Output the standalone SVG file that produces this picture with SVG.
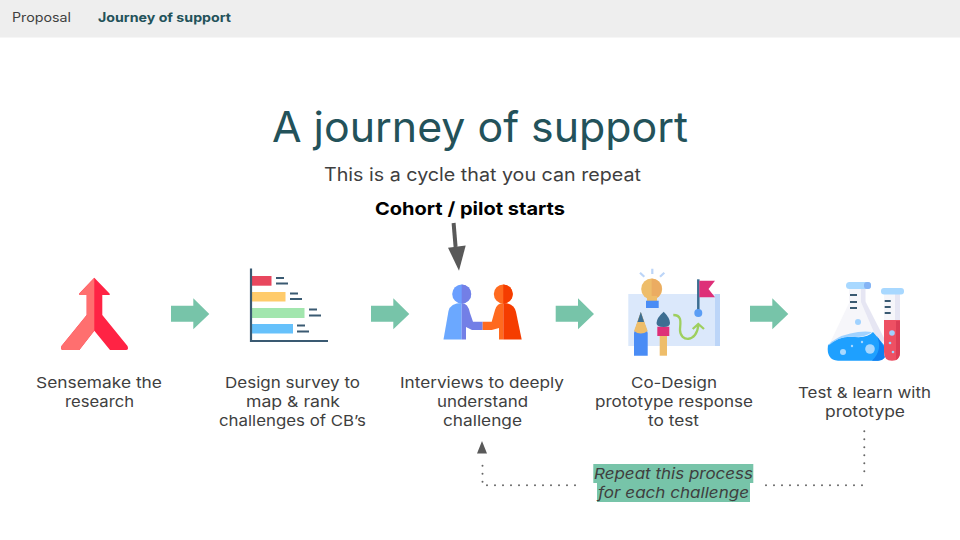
<svg xmlns="http://www.w3.org/2000/svg" width="960" height="540" viewBox="0 0 960 540">
<style>
text{font-family:Inter,"Noto Sans","Liberation Sans",sans-serif;fill:#3f3f3f}
.l{font-size:15px;text-anchor:start}
.arrow{fill:#77c4a9}
.dot{fill:none;stroke:#666;stroke-width:2;stroke-linecap:round;stroke-dasharray:0 8}
</style>
<rect width="960" height="540" fill="#fff"/>
<g id="header">
<rect width="960" height="37.500" fill="#eeeeee"/>
<text x="12" y="22" font-size="12.500" textLength="59" lengthAdjust="spacingAndGlyphs">Proposal</text>
<text x="98" y="22" font-size="12.500" font-weight="700" style="fill:#23525a" textLength="133" lengthAdjust="spacingAndGlyphs">Journey of support</text>
</g>
<g id="title">
<text x="272" y="142" font-size="42" style="fill:#23525a" textLength="416" lengthAdjust="spacingAndGlyphs">A journey of support</text>
<text x="324" y="181" font-size="18" textLength="317" lengthAdjust="spacingAndGlyphs">This is a cycle that you can repeat</text>
</g>
<g id="cohort">
<text x="375" y="215" font-size="18" font-weight="700" style="fill:#000" textLength="190" lengthAdjust="spacingAndGlyphs">Cohort / pilot starts</text>
</g>
<g id="connectors">
<path class="arrow" d="M171 305.700H193.300V298.300L209.300 314L193.300 329.300V321.700H171Z"/>
<path class="arrow" d="M371 305.700H393.300V298.300L409.300 314L393.300 329.300V321.700H371Z"/>
<path class="arrow" d="M555.700 305.700H578V298.300L594 314L578 329.300V321.700H555.700Z"/>
<path class="arrow" d="M750 305.700H772.300V298.300L788.300 314L772.300 329.300V321.700H750Z"/>
<path d="M453.600 223L455.600 247" stroke="#595959" stroke-width="4" fill="none"/>
<path d="M448 247.700L465.700 245.500L459 270.700Z" fill="#595959"/>
<path class="dot" d="M864.300 431.300V479.300"/>
<path class="dot" d="M766 485.300H862.500"/>
<path class="dot" d="M575 485.300H486.700"/>
<path class="dot" d="M482.500 481.700V457.700"/>
<path d="M482 441L487 453.500H477Z" fill="#595959"/>
</g>
<g id="node-sensemake">
<path d="M94.300 277.700L79.300 293.500Q78.600 295 80.500 295H86.700V315L61.500 346Q60.300 350 63 350H79.300L94.300 330.700L110 350H126Q129 350 127.500 346L102.300 315V295H108.500Q110.500 295 109.500 293.500Z" fill="#ff2344"/>
<path d="M94.300 277.700L79.300 293.500Q78.600 295 80.500 295H86.700V315L61.500 346Q60.300 350 63 350H79.300L94.300 330.700Z" fill="#ff6f6f"/>
<text class="l" x="36" y="387.500" textLength="126" lengthAdjust="spacingAndGlyphs">Sensemake the</text>
<text class="l" x="65" y="406.500" textLength="69" lengthAdjust="spacingAndGlyphs">research</text>
</g>
<g id="node-survey">
<rect x="252" y="276" width="19.500" height="9.700" fill="#e8475e"/>
<rect x="252" y="292" width="33.500" height="9.500" fill="#ffcb6b"/>
<rect x="252" y="308" width="52.500" height="10" fill="#a2e6ae"/>
<rect x="252" y="324" width="41" height="9.500" fill="#66c1fb"/>
<path d="M251 268.500V341H328" fill="none" stroke="#3a5a72" stroke-width="2.200"/>
<path d="M276 278h8M276 283.500h12M290 293.500h8M290 299h12M309 309.500h8M309 315.500h12M297 325.500h8M297 331.500h12" stroke="#3a5a72" stroke-width="2" fill="none"/>
<text class="l" x="225" y="387.500" textLength="135" lengthAdjust="spacingAndGlyphs">Design survey to</text>
<text class="l" x="246" y="406.500" textLength="94" lengthAdjust="spacingAndGlyphs">map &amp; rank</text>
<text class="l" x="219" y="425.500" textLength="147" lengthAdjust="spacingAndGlyphs">challenges of CB’s</text>
</g>
<g id="node-interviews">
<circle cx="461.700" cy="294" r="9.500" fill="#6b9fff"/>
<path d="M461.700 284.500a9.500 9.500 0 0 1 0 19Z" fill="#737fe6"/>
<path d="M443.500 339.500L448.500 311Q450.500 303 461.700 303V339.500Z" fill="#6ba8ff"/>
<path d="M461.700 303Q468 303 470 313L473 321.700H482.700V330H472L466 327V339.500H461.700Z" fill="#737fe6"/>
<circle cx="503.300" cy="294" r="9.500" fill="#ff6a1f"/>
<path d="M503.300 284.500a9.500 9.500 0 0 1 0 19Z" fill="#f53d00"/>
<path d="M482.700 321.700H491.700L495 310Q497 303 503.300 303V339.500H499V328L491.700 330H482.700Z" fill="#ff6a1f"/>
<path d="M503.300 303Q514 303 516 312L521.700 339.500H503.300Z" fill="#f53d00"/>
<text class="l" x="400" y="387.500" textLength="164" lengthAdjust="spacingAndGlyphs">Interviews to deeply</text>
<text class="l" x="437" y="406.500" textLength="91" lengthAdjust="spacingAndGlyphs">understand</text>
<text class="l" x="443" y="425.500" textLength="79" lengthAdjust="spacingAndGlyphs">challenge</text>
</g>
<g id="node-codesign">
<rect x="628.300" y="294" width="91.700" height="52" fill="#dbe8fb"/>
<rect x="715" y="294" width="5" height="52" fill="#bcd5f8"/>
<path d="M640 272.700L644.300 276.700M652.300 268.700V274M664.300 272.700L660 276.700" stroke="#bcd5f8" stroke-width="2.200" fill="none"/>
<circle cx="651.700" cy="289" r="10.500" fill="#eebd6a"/>
<path d="M651.700 278.500a10.500 10.500 0 0 1 4 20V301H651.700Z" fill="#eaa860" opacity=".8"/>
<path d="M647 296H657V301H647Z" fill="#eebd6a"/>
<rect x="646" y="300.700" width="12.700" height="7.300" fill="#4a8cf5"/>
<path d="M698.300 279.300V312" stroke="#3d6e92" stroke-width="2.500"/>
<circle cx="698.300" cy="313" r="4" fill="#5a9df5"/>
<path d="M699.300 280.700H715L708.500 289L715 297.300H699.300Z" fill="#de2f78"/>
<path d="M634 355.700V333L640.800 312L647.700 333V355.700Z" fill="#4a8cf5"/>
<path d="M634 331L640.800 312L647.700 331Q640.800 336 634 331Z" fill="#eebd6a"/>
<path d="M637.500 322L640.800 312L644.100 322Z" fill="#3d6e92"/>
<path d="M659.700 333V355.700H667V333Z" fill="#eebd6a"/>
<rect x="657.300" y="326.700" width="12" height="9.300" fill="#de2f78"/>
<path d="M663.700 311.700Q670 318 670 323Q670 327 663.700 327Q656.500 327 656.500 323Q656.500 318 663.700 311.700Z" fill="#3d6e92"/>
<path d="M673.300 315C683 315 680 324 680 330C680 342 697 343 698.300 325M692.700 329L698.300 324L704 329" fill="none" stroke="#9ecf5f" stroke-width="2.300"/>
<text class="l" x="631" y="387.500" textLength="86" lengthAdjust="spacingAndGlyphs">Co-Design</text>
<text class="l" x="595" y="406.500" textLength="158" lengthAdjust="spacingAndGlyphs">prototype response</text>
<text class="l" x="648" y="425.500" textLength="51" lengthAdjust="spacingAndGlyphs">to test</text>
</g>
<g id="node-test">
<path d="M849 287H865V300L885 340Q888 360 880 360H835Q825 355 830 343L849 303Z" fill="#f6f6fa"/>
<path d="M861 287H865.500V302L885 340L879 344L861 302Z" fill="#e6e6f3"/>
<path d="M828 345Q840 335 855 337Q868 338 873 332L884 345Q888 360 878 360.700H838Q826 360 828 345Z" fill="#1ea0ff"/>
<path d="M831 342Q842 334 858 332Q866 331 872 332Q866 337 855 337Q840 335 828 346Z" fill="#a0d2ff"/>
<path d="M877 336L886 350Q887 360.700 878 360.700H872Q883 350 877 336Z" fill="#1080f0"/>
<rect x="846" y="282" width="25" height="7" rx="3.500" fill="#a8d8ff"/>
<rect x="864" y="282" width="7" height="7" rx="3" fill="#85b4f5"/>
<circle cx="858" cy="322" r="3" fill="#a0d2ff"/>
<circle cx="843" cy="352" r="3" fill="#a8d8ff"/>
<circle cx="870" cy="349" r="4.800" fill="#a8d8ff"/>
<circle cx="852" cy="346" r="1.200" fill="#a8d8ff"/>
<circle cx="862" cy="342" r="1.200" fill="#a8d8ff"/>
<path d="M850 295h7M850 302h7M850 308h7" stroke="#3a5a72" stroke-width="2" fill="none"/>
<path d="M884 294H900V352Q900 360.700 892 360.700Q884 360.700 884 352Z" fill="#f6f6fa"/>
<path d="M895 294H900V320H895Z" fill="#e6e6f3"/>
<path d="M884 320H900V352Q900 360.700 892 360.700Q884 360.700 884 352Z" fill="#ee5063"/>
<path d="M896 321H900V352Q900 358 896 360Z" fill="#dc3d55"/>
<rect x="881" y="288" width="23" height="6.500" rx="3" fill="#a8d8ff"/>
<circle cx="892" cy="333" r="2.800" fill="#a0d2ff"/>
<circle cx="890" cy="343" r="1.300" fill="#a0d2ff"/>
<circle cx="893" cy="352" r="1.300" fill="#a0d2ff"/>
<path d="M884.700 301h6M884.700 307h6M884.700 313h6" stroke="#3a5a72" stroke-width="2" fill="none"/>
<text class="l" x="798" y="397.500" textLength="133" lengthAdjust="spacingAndGlyphs">Test &amp; learn with</text>
<text class="l" x="825" y="416.500" textLength="80" lengthAdjust="spacingAndGlyphs">prototype</text>
</g>
<g id="note">
<rect x="593.300" y="464" width="160" height="19" fill="#77c4a9"/>
<rect x="597" y="483" width="153" height="19" fill="#77c4a9"/>
<text x="594" y="479" font-size="15" font-style="italic" textLength="159" lengthAdjust="spacingAndGlyphs">Repeat this process</text>
<text x="598" y="498" font-size="15" font-style="italic" textLength="151" lengthAdjust="spacingAndGlyphs">for each challenge</text>
</g>
</svg>
